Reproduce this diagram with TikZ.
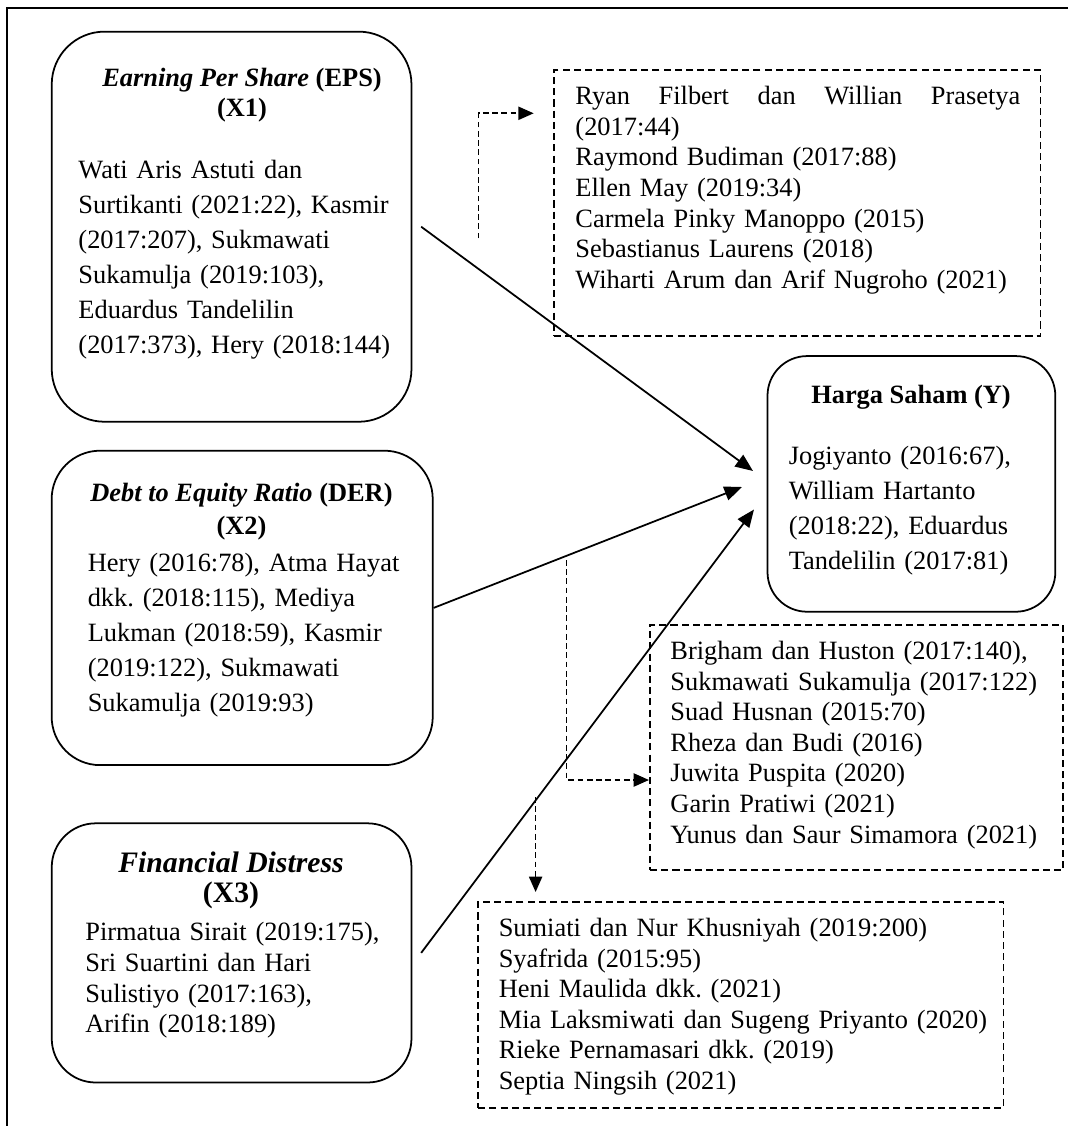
\documentclass[tikz,border=0pt]{standalone}
\usepackage{fontspec}
\setmainfont{Liberation Serif}
\usetikzlibrary{arrows.meta}
\frenchspacing
\tikzset{
  box/.style={draw, line width=0.8pt, rounded corners=20pt},
  refbox/.style={draw, line width=0.8pt, dash pattern=on 3.2pt off 1.9pt},
  hd/.style={inner sep=0pt, align=center, font=\fontsize{12}{13.6}\selectfont},
  txt/.style={inner sep=0pt, align=left, text width=142pt, font=\fontsize{12}{15.9}\selectfont},
  reftxt/.style={inner sep=0pt, align=left, font=\fontsize{12}{13.9}\selectfont},
  arr/.style={line width=0.8pt, -{Triangle[length=8pt,width=6.5pt]}},
  darr/.style={line width=0.8pt, dash pattern=on 2.6pt off 1.6pt, -{Triangle[length=7pt,width=6pt]}}
}
\begin{document}
\begin{tikzpicture}[x=0.4545pt,y=-0.4545pt]
  \useasboundingbox (0,0) rectangle (1068,1126);
  \draw[line width=1pt] (1068,8) -| (7.2,1126);

  % variable boxes
  \node[box, rounded corners=24pt, minimum width=163.5pt, minimum height=177.3pt] (eps) at (231.6,226.7) {};
  \node[box, rounded corners=22pt, minimum width=173.2pt, minimum height=142.9pt] (der) at (242.2,607.9) {};
  \node[box, minimum width=163.5pt, minimum height=117.8pt] (fd) at (231.6,952.9) {};
  \node[box, rounded corners=18pt, minimum width=130.8pt, minimum height=116.2pt] (harga) at (911.4,483.9) {};

  \node[hd] (epsT) at (242,95) {\textbf{\textit{Earning Per Share} (EPS)}\\\textbf{(X1)}};
  \node[txt] (epsB) at (234.7,260) {Wati Aris Astuti dan\\
    Surtikanti (2021:22), Kasmir\\
    (2017:207), Sukmawati\\
    Sukamulja (2019:103),\\
    Eduardus Tandelilin\\
    (2017:373), Hery (2018:144)};

  \node[hd, font=\fontsize{12}{15.1}\selectfont] (derT) at (241.5,511.7) {\textbf{\textit{Debt to Equity Ratio} (DER)}\\\textbf{(X2)}};
  \node[txt] (derB) at (244,635) {Hery (2016:78), Atma Hayat\\
    dkk. (2018:115), Mediya\\
    Lukman (2018:59), Kasmir\\
    (2019:122), Sukmawati\\
    Sukamulja (2019:93)};

  \node[hd, font=\fontsize{13.5}{13.4}\selectfont] (fdT) at (231,880.5) {\textbf{\textit{Financial Distress}}\\\textbf{(X3)}};
  \node[txt, font=\fontsize{12}{14}\selectfont] (fdB) at (241.6,980.3) {Pirmatua Sirait (2019:175),\\
    Sri Suartini dan Hari\\
    Sulistiyo (2017:163),\\
    Arifin (2018:189)};

  \node[hd] (hargaT) at (911,397.3) {\textbf{Harga Saham (Y)}};
  \node[txt, text width=104pt] (hargaB) at (903.2,510.8) {Jogiyanto (2016:67),\\
    William Hartanto\\
    (2018:22), Eduardus\\
    Tandelilin (2017:81)};

  % reference boxes
  \node[refbox, minimum width=221pt, minimum height=120.9pt] (ref1) at (797.3,203) {};
  \node[refbox, minimum width=187.7pt, minimum height=111.4pt] (ref2) at (856.5,747.5) {};
  \node[refbox, minimum width=238.8pt, minimum height=93.8pt] (ref3) at (740.8,1004.9) {};

  \node[reftxt, text width=202.2pt] (ref1B) at (797.9,190.2) {\makebox[202.2pt][l]{Ryan\hfill Filbert\hfill dan\hfill Willian\hfill Prasetya}\\
    (2017:44)\\
    Raymond Budiman (2017:88)\\
    Ellen May (2019:34)\\
    Carmela Pinky Manoppo (2015)\\
    Sebastianus Laurens (2018)\\
    Wiharti Arum dan Arif Nugroho (2021)};
  \node[reftxt, text width=170pt] (ref2B) at (857.5,745) {Brigham dan Huston (2017:140),\\
    Sukmawati Sukamulja (2017:122)\\
    Suad Husnan (2015:70)\\
    Rheza dan Budi (2016)\\
    Juwita Puspita (2020)\\
    Garin Pratiwi (2021)\\
    Yunus dan Saur Simamora (2021)};
  \node[reftxt, text width=222pt] (ref3B) at (743,1006.7) {Sumiati dan Nur Khusniyah (2019:200)\\
    Syafrida (2015:95)\\
    Heni Maulida dkk. (2021)\\
    Mia Laksmiwati dan Sugeng Priyanto (2020)\\
    Rieke Pernamasari dkk. (2019)\\
    Septia Ningsih (2021)};

  % arrow ends
  \coordinate (t1) at (753,471);
  \coordinate (t2) at (742,487);
  \coordinate (t3) at (754,509.5);
  \draw[arr] ([xshift=4pt]eps.east) -- (t1);
  \draw[arr] (der.east) -- (t2);
  \draw[arr] ([xshift=4pt]fd.east) -- (t3);

  \coordinate (d1a) at (478.6,238.3);
  \coordinate (d1b) at (533.7,113.3);
  \coordinate (d2a) at (566.6,560);
  \coordinate (d2b) at (649,780);
  \coordinate (d3a) at (535.6,797);
  \coordinate (d3b) at (535.6,892);
  \draw[darr] (d1a) |- (d1b);
  \draw[darr] (d2a) |- (d2b);
  \draw[darr] (d3a) -- (d3b);
\end{tikzpicture}
\end{document}
